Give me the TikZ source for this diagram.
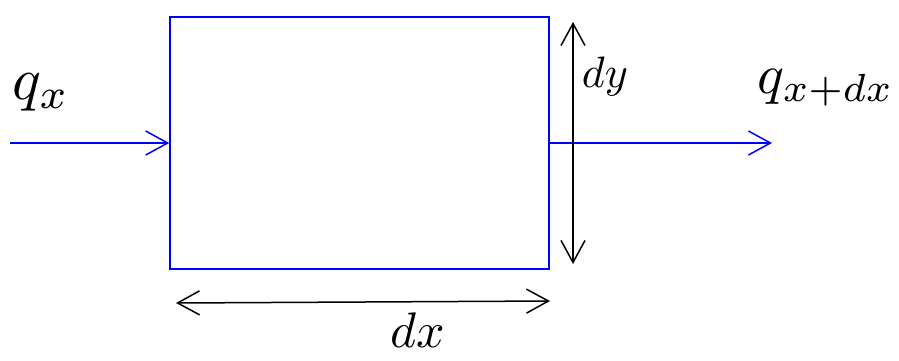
\documentclass[tikz,border=0pt]{standalone}
\usetikzlibrary{arrows.meta}
\begin{document}
\begin{tikzpicture}[x=1pt,y=-1pt,
  flow/.style={blue,line width=1.5pt,-{Straight Barb[length=22pt,width=24pt,line width=1.5pt]}},
  dim/.style={black,line width=1.5pt,{Straight Barb[length=22pt,width=24pt,line width=1.5pt]}-{Straight Barb[length=22pt,width=24pt,line width=1.5pt]}},
  lbl/.style={inner sep=0pt}]
\useasboundingbox (0,0) rectangle (899,360);
\node[draw=blue,line width=1.5pt,minimum width=379pt,minimum height=252pt,inner sep=0pt] (box) at (359.5,143) {};
\coordinate (in) at (10,143);
\coordinate (out) at (772,143);
\coordinate (ytop) at (573,22);
\coordinate (ybot) at (573,264);
\coordinate (xl) at (176,303);
\coordinate (xr) at (550,301);
\draw[flow] (in) -- (box.west);
\draw[flow] (box.east) -- (out);
\draw[dim] (ybot) -- (ytop);
\draw[dim] (xl) -- (xr);
\node[lbl] (qx) at (41,92) {\scalebox{6}{$q_x$}};
\node[lbl] (dy) at (605,76) {\scalebox{4.4}{$dy$}};
\node[lbl] (qxdx) at (826,88) {\scalebox{5.6}{$q_{x+dx}$}};
\node[lbl] (dx) at (418,330) {\scalebox{5}{$dx$}};
\end{tikzpicture}
\end{document}
